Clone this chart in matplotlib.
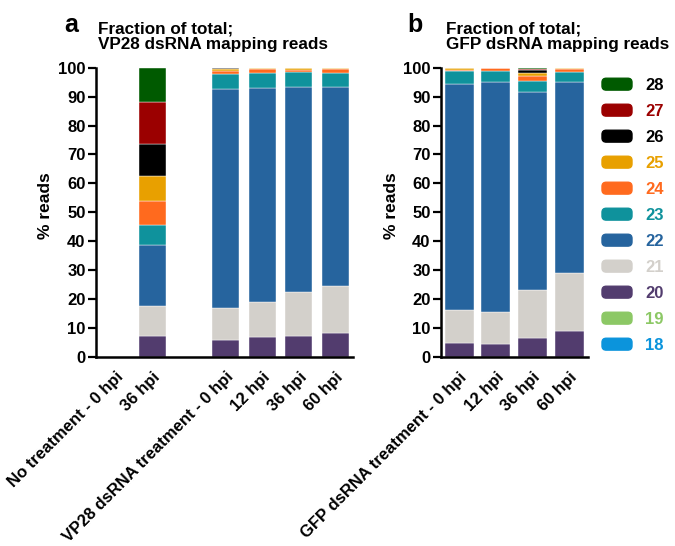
import numpy as np
import matplotlib
matplotlib.use("Agg")
import matplotlib.pyplot as plt
from matplotlib.patches import Patch, FancyBboxPatch
from matplotlib.legend_handler import HandlerPatch

plt.rcParams['font.family'] = ['Liberation Sans', 'DejaVu Sans']
plt.rcParams['font.weight'] = 'bold'

# read lengths, bottom of the stack first
sizes = ['18', '19', '20', '21', '22', '23', '24', '25', '26', '27', '28']
colors = ['#0b94dc', '#8cc865', '#523c6e', '#d3d0cb', '#26649e', '#0f929c',
          '#ff6a1e', '#e8a000', '#000000', '#9b0000', '#005a00']
label_colors = ['#0b94dc', '#8cc865', '#523c6e', '#d3d0cb', '#26649e',
                '#0f929c', '#ff6a1e', '#e8a000', '#000000', '#9b0000',
                '#000000']

# panel a: VP28 dsRNA mapping reads (% per read length 18..28)
a_labels = ['No treatment - 0 hpi', '36 hpi', 'VP28 dsRNA treatment - 0 hpi',
            '12 hpi', '36 hpi', '60 hpi']
a_slots = [0, 1, 3, 4, 5, 6]
a_values = [
    [0, 0, 0, 0, 0, 0, 0, 0, 0, 0, 0],
    [0, 0, 7.3, 10.3, 21.2, 6.9, 8.3, 8.4, 11.1, 14.7, 11.8],
    [0, 0, 5.8, 11.0, 75.9, 5.0, 1.3, 0.4, 0.4, 0.2, 0],
    [0, 0, 6.8, 12.2, 74.0, 5.2, 1.3, 0.3, 0.1, 0.1, 0],
    [0, 0, 7.3, 15.0, 71.0, 5.1, 0.8, 0.6, 0.1, 0.1, 0],
    [0, 0, 8.3, 16.3, 68.9, 4.8, 1.2, 0.4, 0.05, 0.05, 0],
]

# panel b: GFP dsRNA mapping reads
b_labels = ['GFP dsRNA treatment - 0 hpi', '12 hpi', '36 hpi', '60 hpi']
b_slots = [0, 1, 2, 3]
b_values = [
    [0, 0, 4.8, 11.5, 78.1, 4.4, 0.4, 0.6, 0.2, 0, 0],
    [0, 0, 4.6, 10.8, 79.8, 3.8, 0.8, 0.2, 0, 0, 0],
    [0, 0, 6.7, 16.4, 68.4, 4.0, 1.8, 0.7, 1.2, 0.5, 0.3],
    [0, 0, 9.1, 20.0, 65.8, 3.7, 1.0, 0.4, 0, 0, 0],
]

W, H = 675, 546
fig = plt.figure(figsize=(W / 100, H / 100), dpi=100)


def draw_panel(rect, slots, values, labels, width, xlim):
    ax = fig.add_axes(rect)
    vals = np.array(values, dtype=float)
    bottom = np.zeros(len(slots))
    for i in range(len(sizes)):
        ax.bar(slots, vals[:, i], width, bottom=bottom, color=colors[i],
               edgecolor='white', linewidth=0.3)
        bottom += vals[:, i]
    ax.set_xlim(*xlim)
    ax.set_ylim(0, 100)
    ax.set_yticks(np.arange(0, 101, 10))
    ax.set_xticks(slots)
    ax.set_xticklabels(labels, rotation=45, ha='right', rotation_mode='anchor')
    ax.tick_params(axis='y', length=6, width=1.6, pad=1.5, labelsize=12)
    ax.tick_params(axis='x', length=0, pad=9, labelsize=12)
    for s in ['top', 'right']:
        ax.spines[s].set_visible(False)
    for s in ['left', 'bottom']:
        ax.spines[s].set_linewidth(1.8)
    return ax


def fx(px):
    return px / W


def fy(py):
    return 1 - py / H


ax_a = draw_panel([fx(96), fy(357), fx(353 - 96), (357 - 67.7) / H],
                  a_slots, a_values, a_labels, 0.74, (-0.55, 6.48))
ax_b = draw_panel([fx(441), fy(357), fx(588 - 441), (357 - 67.7) / H],
                  b_slots, b_values, b_labels, 0.79, (-0.49, 3.5))

# panel letters, titles and y labels
fig.text(fx(64), fy(13), 'a', fontsize=18, va='top')
fig.text(fx(407), fy(13), 'b', fontsize=18, va='top')
fig.text(fx(98), fy(21), 'Fraction of total;\nVP28 dsRNA mapping reads',
         fontsize=12.3, va='top', linespacing=1.1)
fig.text(fx(446), fy(21), 'Fraction of total;\nGFP dsRNA mapping reads',
         fontsize=12.3, va='top', linespacing=1.1)
fig.text(fx(45), fy(206), '% reads', rotation=90, ha='center', va='center',
         fontsize=12.5)
fig.text(fx(391), fy(206), '% reads', rotation=90, ha='center', va='center',
         fontsize=12.5)


def rounded(legend, orig_handle, xdescent, ydescent, width, height, fontsize):
    return FancyBboxPatch((-xdescent, -ydescent), width, height,
                          boxstyle='round,pad=0,rounding_size=3')


handles = [Patch(color=c) for c in colors[::-1]]
fig.legend(handles, sizes[::-1], loc='upper left',
           bbox_to_anchor=(fx(602), fy(78)), frameon=False,
           labelcolor=label_colors[::-1], fontsize=12,
           handlelength=1.8, handleheight=0.72, handletextpad=0.78,
           labelspacing=0.66, borderpad=0, borderaxespad=0,
           handler_map={Patch: HandlerPatch(patch_func=rounded)})

fig.savefig('out.png', dpi=100)
